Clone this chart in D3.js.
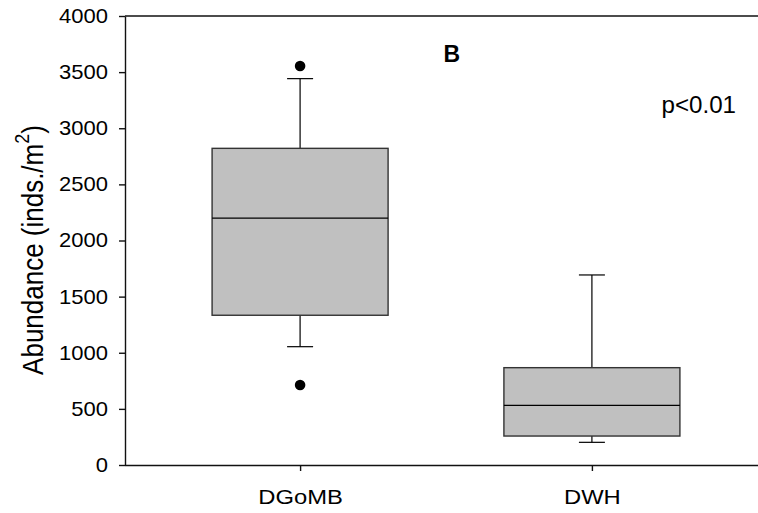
<!DOCTYPE html>
<html>
<head>
<meta charset="utf-8">
<script src="https://cdn.jsdelivr.net/npm/d3@7"></script>
<style>
html,body{margin:0;padding:0;background:#fff;}
text{font-family:"Liberation Sans",Arial,sans-serif;}
</style>
</head>
<body>
<svg id="chart" width="758" height="513"></svg>
<script>
const categories = ["DGoMB", "DWH"];
const lowerWhisker = [1054, 202];
const q1 = [1334, 258];
const median = [2200, 532];
const q3 = [2821, 867];
const upperWhisker = [3442, 1693];
const outliers = [[3555, 713], []];
const yTicks = [0, 500, 1000, 1500, 2000, 2500, 3000, 3500, 4000];
const panelLabel = "B";
const pLabel = "p<0.01";

(function () {
const svg = d3.select("#chart");
const mLeft = 125, mTop = 16, mRight = 767, mBottom = 465;

const x = d3.scalePoint().domain(categories).range([mLeft, mRight]).padding(0.6);
const y = d3.scaleLinear().domain([0, 4000]).range([mBottom, mTop]);
const boxW = 176, capW = 26;

svg.append("line").attr("x1", mLeft).attr("x2", 758).attr("y1", mTop).attr("y2", mTop)
  .attr("stroke", "#111").attr("stroke-width", 1.4);

const yAxis = d3.axisLeft(y).tickValues(yTicks).tickFormat(d3.format("d")).tickSize(6).tickPadding(11).tickSizeOuter(0);
const gy = svg.append("g").attr("transform", `translate(${mLeft},0)`).call(yAxis);
gy.selectAll("text").attr("font-size", 20).attr("fill", "#000")
  .attr("x", 0).attr("transform", "translate(-17,0) scale(1.1,1)");
gy.selectAll("line,path").attr("stroke", "#111").attr("stroke-width", 1.4);

const xAxis = d3.axisBottom(x).tickSize(6).tickPadding(18).tickSizeOuter(0);
const gx = svg.append("g").attr("transform", `translate(0,${mBottom})`).call(xAxis);
gx.select(".domain").attr("d", `M${mLeft},0.5H758`);
gx.selectAll("text").attr("font-size", 20.5).attr("fill", "#000").attr("transform", "scale(1.16,1)");
gx.selectAll("line,path").attr("stroke", "#111").attr("stroke-width", 1.4);

const data = categories.map((c, i) => ({
  c, lw: lowerWhisker[i], q1: q1[i], med: median[i], q3: q3[i], uw: upperWhisker[i], out: outliers[i]
}));

const g = svg.append("g");
data.forEach(d => {
  const cx = x(d.c);
  g.append("line").attr("x1", cx).attr("x2", cx).attr("y1", y(d.q3)).attr("y2", y(d.uw)).attr("stroke", "#000").attr("stroke-width", 1.2);
  g.append("line").attr("x1", cx).attr("x2", cx).attr("y1", y(d.q1)).attr("y2", y(d.lw)).attr("stroke", "#000").attr("stroke-width", 1.2);
  g.append("line").attr("x1", cx - capW/2).attr("x2", cx + capW/2).attr("y1", y(d.uw)).attr("y2", y(d.uw)).attr("stroke", "#000").attr("stroke-width", 1.2);
  g.append("line").attr("x1", cx - capW/2).attr("x2", cx + capW/2).attr("y1", y(d.lw)).attr("y2", y(d.lw)).attr("stroke", "#000").attr("stroke-width", 1.2);
  g.append("rect").attr("x", cx - boxW/2).attr("width", boxW)
    .attr("y", y(d.q3)).attr("height", y(d.q1) - y(d.q3))
    .attr("fill", "#c0c0c0").attr("stroke", "#333").attr("stroke-width", 1.4);
  g.append("line").attr("x1", cx - boxW/2).attr("x2", cx + boxW/2).attr("y1", y(d.med)).attr("y2", y(d.med)).attr("stroke", "#000").attr("stroke-width", 1.2);
  d.out.forEach(v => {
    g.append("circle").attr("cx", cx).attr("cy", y(v)).attr("r", 5.3).attr("fill", "#000");
  });
});

const yt = svg.append("text").attr("transform", `translate(43,250) rotate(-90) scale(1,1.16)`)
  .attr("text-anchor", "middle").attr("font-size", 26).attr("fill", "#000");
yt.append("tspan").text("Abundance (inds./m");
yt.append("tspan").attr("dy", -12).attr("font-size", 18).text("2");
yt.append("tspan").attr("dy", 12).text(")");

svg.append("text").attr("x", 451.7).attr("y", 62).attr("text-anchor", "middle")
  .attr("font-size", 23).attr("font-weight", "bold").attr("fill", "#000").text(panelLabel);
svg.append("text").attr("transform", "translate(736,113) scale(1.05,1)").attr("text-anchor", "end")
  .attr("font-size", 23).attr("fill", "#000").text(pLabel);
})();
</script>
</body>
</html>
